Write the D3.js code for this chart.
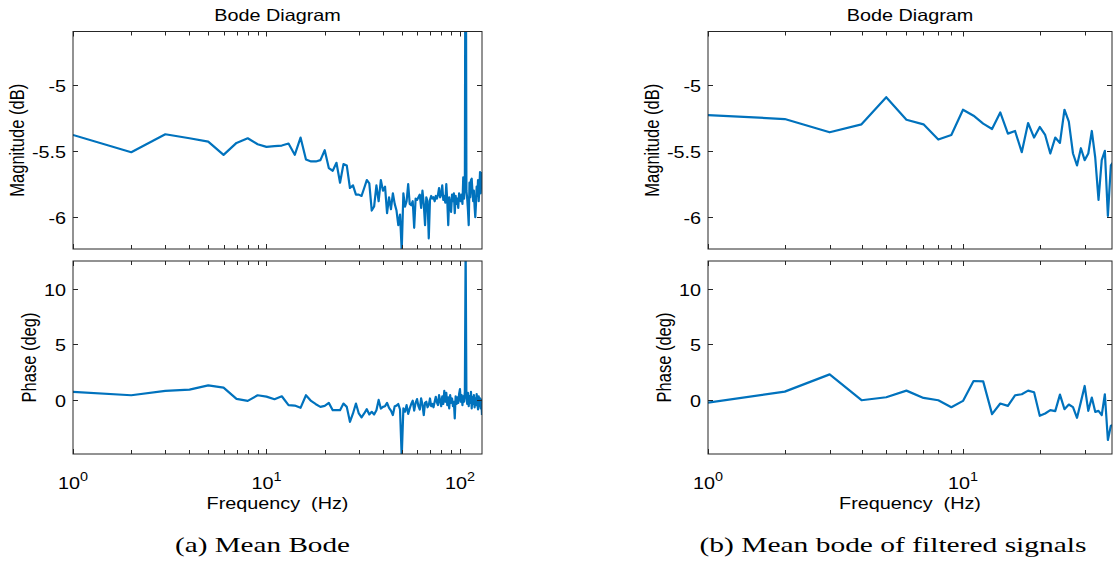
<!DOCTYPE html>
<html><head><meta charset="utf-8">
<script src="https://cdn.jsdelivr.net/npm/d3@7"></script>
<style>
html,body{margin:0;padding:0;background:#fff;}
svg{display:block;}
text{font-family:"Liberation Sans",Arial,sans-serif;fill:#000;white-space:pre;}
</style></head>
<body>
<svg id="chart" width="1113" height="565"></svg>
<script>
// ---------- DATA ----------
const freqA = [1,2,3,4,5,6,7,8,9,10,11,12,13,14,15,16,17,18,19,20,21,22,23,24,25,26,27,28,29,30,
  31,32,33,34,35,36,37,38,39,40,41,42,43,44,45,46,47,48,49,50,51,52,53,54,55,56,57,58,59,60,
  61,62,63,64,65,66,67,68,69,70,71,72,73,74,75,76,77,78,79,80,81,82,83,84,85,86,87,88,89,90,
  91,92,93,94,95,96,97,98,99,100,101,102,103,104,105,106,107,108,109,110,111,112,113,114,115,116,117,118,119,120,
  121,122,123,124,125,126,127,128,129,130];
const magA = [-5.38,-5.51,-5.375,-5.405,-5.43,-5.53,-5.44,-5.405,-5.45,-5.47,
  -5.465,-5.46,-5.445,-5.53,-5.40,-5.565,-5.58,-5.58,-5.57,-5.495,
  -5.63,-5.65,-5.59,-5.74,-5.60,-5.61,-5.78,-5.76,-5.83,-5.83,
  -5.84,-5.78,-5.72,-5.745,-5.95,-5.92,-5.76,-5.88,-5.72,-5.80,
  -5.77,-5.97,-5.85,-5.94,-5.82,-5.90,-5.95,-6.06,-5.98,-6.25,
  -5.82,-5.92,-5.88,-5.75,-5.90,-5.91,-5.88,-6.08,-5.86,-5.87,
  -5.85,-5.83,-5.93,-5.80,-5.90,-6.06,-5.85,-5.88,-6.16,-5.87,
  -5.84,-5.86,-5.85,-5.88,-5.84,-5.86,-5.83,-5.78,-5.85,-5.83,
  -5.76,-5.87,-5.84,-5.89,-5.75,-5.88,-6.06,-5.85,-5.90,-5.96,
  -5.83,-5.88,-5.82,-5.97,-5.84,-5.90,-5.86,-5.93,-5.82,-5.85,
  -5.88,-5.83,-5.90,-5.70,-5.86,-5.74,-3.00,-5.80,-5.86,-5.95,
  -6.06,-5.74,-5.85,-5.72,-5.71,-5.80,-5.88,-5.80,-5.92,-6.00,
  -5.90,-5.77,-5.84,-5.72,-5.88,-5.78,-5.66,-5.82,-5.70,-5.66];
const phaseA = [0.69,0.39,0.78,0.90,1.29,1.08,0.06,-0.12,0.39,0.27,
  0.03,0.30,-0.51,-0.54,-0.75,0.39,-0.12,-0.42,-0.66,-0.57,
  -0.30,-0.96,-0.96,-0.96,-0.36,-0.66,-2.01,-1.26,-0.36,-1.26,
  -1.62,-1.26,-0.87,-1.35,-1.11,-1.35,-0.96,-0.03,-0.81,-0.66,
  -0.60,-0.30,-0.75,-1.00,-1.40,-0.60,-0.55,-0.40,-0.90,-5.20,
  -0.80,-1.10,-0.50,-1.30,-0.80,-0.40,-0.10,-1.00,-0.30,0.05,
  -0.60,-0.90,0.10,-0.45,-1.40,-0.30,-0.20,-0.70,-0.50,0.10,
  -0.60,-0.40,-0.70,-0.20,0.25,-0.25,-0.50,0.40,-0.10,-0.60,
  0.30,-0.40,0.80,-0.20,0.60,-0.50,0.20,-0.80,0.40,-0.30,
  0.10,-0.60,-0.20,-1.70,0.30,-0.40,0.20,-0.30,0.50,0.95,
  -0.20,0.40,-0.50,0.30,-0.20,0.70,14.0,0.20,-0.40,0.60,
  -0.60,0.30,-0.30,0.70,-0.80,0.20,-0.40,0.40,-0.70,0.10,
  -0.50,0.50,-0.30,-0.90,0.30,-0.60,0.10,-0.80,0.00,-1.40];

const freqB = [1,2,3,4,5,6,7,8,9,10,11,12,13,14,15,16,17,18,19,20,
  21,22,23,24,25,26,27,28,29,30,31,32,33,34,35,36,37,38,39];
const magB = [-5.23,-5.26,-5.36,-5.30,-5.095,-5.265,-5.30,-5.415,-5.38,-5.19,
  -5.235,-5.295,-5.335,-5.21,-5.37,-5.35,-5.51,-5.29,-5.40,-5.32,
  -5.38,-5.52,-5.40,-5.44,-5.19,-5.28,-5.52,-5.61,-5.48,-5.57,
  -5.52,-5.35,-5.55,-5.87,-5.57,-5.50,-5.99,-5.61,-5.58];
const phaseB = [-0.27,0.72,2.28,-0.06,0.21,0.81,0.15,-0.06,-0.69,-0.12,
  1.68,1.65,-1.32,-0.36,-0.57,0.39,0.48,0.81,0.66,-1.47,
  -1.26,-0.96,-1.05,0.45,-0.87,-0.45,-0.69,-1.65,-0.21,1.23,
  -1.02,0.18,-1.11,-1.02,-1.41,0.48,-3.66,-2.37,-2.30];

const magTicks = [-6,-5.5,-5];
const magTickLabels = ["-6","-5.5","-5"];
const phaseTicks = [0,5,10];
const phaseTickLabels = ["0","5","10"];
const decadeTicks = [1,10,100];
const decadeExps = ["0","1","2"];
const titleText = "Bode Diagram";
const magLabel = "Magnitude (dB)";
const phaseLabel = "Phase (deg)";
const xLabel = "Frequency  (Hz)";
const captions = ["(a) Mean Bode","(b) Mean bode of filtered signals"];

// ---------- DRAW ----------
const svg = d3.select("#chart");
const BLUE = "#0072BD", AX = "#262626";
const SX = 1.2; // horizontal stretch of the original figure
const FS = 16.5;

function stretch(sel, k){
  sel.each(function(){
    const w = this.getComputedTextLength();
    d3.select(this).attr("textLength", w*k).attr("lengthAdjust","spacingAndGlyphs");
  });
}

function panel(cfg, idx){
  const g = svg.append("g");
  const x = d3.scaleLog().domain(cfg.xdom).range([cfg.x0, cfg.x1]);
  const yM = d3.scaleLinear().domain([-6.24,-4.6]).range([249,31.5]);
  const yP = d3.scaleLinear().domain([-4.93,12.55]).range([454,261]);
  const minor = [];
  for (let d=1; d<=100; d*=10) for (let m=1; m<=9; m++){ const v=d*m; if(v>=cfg.xdom[0] && v<=cfg.xdom[1]) minor.push(v); }

  const subs = [
    {y:yM, top:31.5, bot:249, ticks:magTicks, labels:magTickLabels, f:cfg.freq, v:cfg.mag, lab:magLabel, labX:cfg.x0-49},
    {y:yP, top:261, bot:454, ticks:phaseTicks, labels:phaseTickLabels, f:cfg.freq, v:cfg.phase, lab:phaseLabel, labX:cfg.x0-37}
  ];
  subs.forEach((s,si)=>{
    const cid = "clip"+idx+"_"+si;
    g.append("clipPath").attr("id",cid).append("rect")
      .attr("x",cfg.x0).attr("y",s.top).attr("width",cfg.x1-cfg.x0).attr("height",s.bot-s.top);
    const line = d3.line().x((d,i)=>x(s.f[i])).y(d=>s.y(d));
    g.append("path").datum(s.v).attr("clip-path","url(#"+cid+")")
      .attr("d",line).attr("fill","none").attr("stroke",BLUE).attr("stroke-width",2.2)
      .attr("stroke-linejoin","round");
    g.append("rect").attr("x",cfg.x0).attr("y",s.top).attr("width",cfg.x1-cfg.x0).attr("height",s.bot-s.top)
      .attr("fill","none").attr("stroke",AX).attr("stroke-width",1);
    const tl = 4;
    minor.forEach(v=>{
      const xx = Math.round(x(v))+0.5;
      const len = decadeTicks.includes(v) ? tl+1 : tl;
      g.append("line").attr("x1",xx).attr("x2",xx).attr("y1",s.top).attr("y2",s.top+len).attr("stroke",AX);
      g.append("line").attr("x1",xx).attr("x2",xx).attr("y1",s.bot).attr("y2",s.bot-len).attr("stroke",AX);
    });
    s.ticks.forEach((t,i)=>{
      const yy = Math.round(s.y(t))+0.5;
      g.append("line").attr("x1",cfg.x0).attr("x2",cfg.x0+tl+1).attr("y1",yy).attr("y2",yy).attr("stroke",AX);
      g.append("line").attr("x1",cfg.x1).attr("x2",cfg.x1-tl-1).attr("y1",yy).attr("y2",yy).attr("stroke",AX);
      g.append("text").attr("x",cfg.x0-7).attr("y",yy+6).attr("text-anchor","end")
        .attr("font-size",FS).text(s.labels[i]).call(stretch,SX);
    });
    g.append("text").attr("transform","translate("+(s.labX)+","+((s.top+s.bot)/2)+") rotate(-90) scale(1,"+SX+")")
      .attr("text-anchor","middle").attr("font-size",FS).text(s.lab);
  });
  g.append("text").attr("x",(cfg.x0+cfg.x1)/2).attr("y",21).attr("text-anchor","middle")
    .attr("font-size",FS).text(titleText).call(stretch,SX);
  decadeTicks.forEach((d,i)=>{
    if (d<cfg.xdom[0] || d>cfg.xdom[1]) return;
    const t = g.append("text").attr("x",x(d)).attr("y",489).attr("text-anchor","middle").attr("font-size",FS);
    t.append("tspan").text("10");
    t.append("tspan").attr("dy",-8).attr("font-size",12).text(decadeExps[i]);
    t.call(stretch,SX);
  });
  g.append("text").attr("x",(cfg.x0+cfg.x1)/2).attr("y",509).attr("text-anchor","middle")
    .attr("font-size",FS).text(xLabel).call(stretch,SX);
  g.append("text").attr("x",cfg.capX).attr("y",552).attr("text-anchor","middle")
    .style("font-family","'Liberation Serif','Times New Roman',serif").attr("font-size",21)
    .text(captions[idx])
    .attr("textLength",cfg.capW).attr("lengthAdjust","spacingAndGlyphs");
}

panel({x0:73, x1:482, xdom:[1,130], freq:freqA, mag:magA, phase:phaseA, capX:262.5, capW:175}, 0);
panel({x0:708, x1:1112, xdom:[1,38.4], freq:freqB, mag:magB, phase:phaseB, capX:893, capW:387}, 1);
</script>
</body></html>
